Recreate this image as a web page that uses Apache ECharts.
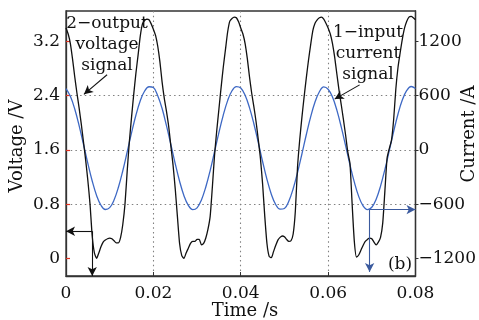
<!DOCTYPE html>
<html>
<head>
<meta charset="utf-8">
<script src="https://cdn.jsdelivr.net/npm/echarts@6/dist/echarts.min.js"></script>
<style>
  html, body { margin: 0; padding: 0; background: #fff; }
  #chart { width: 479px; height: 320px; }
</style>
</head>
<body>
<div id="chart"></div>
<script>
const voltageStep = 0.0005;
const voltage = [
  3.40, 3.31, 3.17, 2.94, 2.68, 2.44, 2.22, 1.98, 1.72, 1.45,
  1.15, 0.80, 0.33, 0.08, 0.00, 0.08, 0.17, 0.24, 0.27, 0.29,
  0.30, 0.29, 0.26, 0.23, 0.23, 0.31, 0.50, 0.80, 1.28, 1.72,
  2.08, 2.42, 2.73, 3.00, 3.28, 3.46, 3.51, 3.53, 3.52, 3.46,
  3.38, 3.29, 3.13, 2.90, 2.60, 2.36, 2.17, 1.95, 1.66, 1.38,
  1.03, 0.62, 0.22, 0.04, 0.00, 0.08, 0.15, 0.22, 0.25, 0.25,
  0.28, 0.28, 0.20, 0.22, 0.30, 0.43, 0.62, 1.05, 1.52, 1.88,
  2.20, 2.52, 2.82, 3.08, 3.34, 3.50, 3.54, 3.56, 3.55, 3.49,
  3.40, 3.31, 3.17, 2.95, 2.68, 2.44, 2.24, 2.02, 1.76, 1.48,
  1.10, 0.62, 0.22, 0.03, 0.01, 0.10, 0.19, 0.27, 0.31, 0.33,
  0.32, 0.28, 0.25, 0.26, 0.36, 0.70, 1.35, 1.75, 2.08, 2.38,
  2.66, 2.92, 3.15, 3.36, 3.47, 3.52, 3.55, 3.56, 3.53, 3.47,
  3.40, 3.31, 3.17, 2.97, 2.72, 2.48, 2.27, 2.05, 1.82, 1.57,
  1.40, 0.80, 0.25, 0.02, 0.05, 0.12, 0.19, 0.25, 0.28, 0.30,
  0.29, 0.24, 0.20, 0.24, 0.31, 0.52, 1.00, 1.48, 1.62, 1.74,
  2.05, 2.50, 2.82, 3.04, 3.24, 3.40, 3.50, 3.56, 3.57, 3.55, 3.52
];

// input current, sampled every 1 ms
const currentStep = 0.001;
const current = [
  679, 594, 453, 270, 63, -149, -344, -504, -612, -659,
  -639, -554, -413, -230, -23, 189, 384, 544, 652, 699,
  690, 600, 458, 268, 60, -152, -346, -506, -614, -660,
  -641, -553, -410, -228, -20, 192, 386, 546, 655, 700,
  685, 605, 468, 290, 85, -128, -326, -490, -604, -656,
  -648, -568, -430, -250, -45, 168, 366, 530, 644, 698,
  672, 585, 440, 255, 47, -164, -357, -514, -618, -660,
  -634, -545, -400, -215, -8, 204, 398, 555, 658, 702,
  680
];

const timeTicks = [0, 0.02, 0.04, 0.06, 0.08];
const voltageTicks = [0, 0.8, 1.6, 2.4, 3.2];
const currentTicks = [-1200, -600, 0, 600, 1200];

// marked points on the traces [time, value]
const voltageMark = [0.006, 0.4];
const currentMark = [0.0695, -660];
const voltageNote = [[0.0094, 2.71], [0.0041, 2.42]];
const currentNote = [[0.0672, 2.56], [0.0615, 2.35]];

const serif = '"DejaVu Serif", serif';
const vMin = -0.26, vMax = 3.65;
const toCurrent = v => (v - 1.6) * 750;
const minus = s => String(s).replace('-', '\u2212');

const chart = echarts.init(document.getElementById('chart'));

const voltageData = voltage.map((v, i) => [+(i * voltageStep).toFixed(4), v]);
const currentData = current.map((c, i) => [+(i * currentStep).toFixed(3), c]);

const dotted = {type: [1.5, 3.2], color: '#808080', width: 1.1};

chart.setOption({
  animation: false,
  grid: {
    left: 66, right: 63, top: 11, bottom: 44,
    show: true, borderColor: '#333', borderWidth: 1.3
  },
  xAxis: {
    type: 'value',
    min: timeTicks[0], max: timeTicks[timeTicks.length - 1], interval: 0.02,
    axisLine: {onZero: false, lineStyle: {color: '#333', width: 1.3}},
    axisTick: {inside: true, length: 4, lineStyle: {color: '#333'}},
    axisLabel: {
      margin: 9, color: '#111', fontFamily: serif, fontSize: 17,
      formatter: v => v === 0 ? '0' : v.toFixed(2)
    },
    splitLine: {show: true, showMinLine: false, showMaxLine: false, lineStyle: dotted}
  },
  yAxis: [
    {
      type: 'value', min: vMin, max: vMax,
      axisLine: {show: true, lineStyle: {color: '#333', width: 1.3}},
      axisTick: {show: true, inside: true, length: 4, customValues: voltageTicks,
        lineStyle: {color: '#e0301e', width: 1.2}},
      axisLabel: {
        customValues: voltageTicks, margin: 6, color: '#111',
        fontFamily: serif, fontSize: 17,
        formatter: v => v === 0 ? '0' : v.toFixed(1)
      },
      splitLine: {show: true, showMinLine: false, showMaxLine: false, lineStyle: dotted}
    },
    {
      type: 'value', position: 'right', min: toCurrent(vMin), max: toCurrent(vMax),
      axisLine: {show: true, lineStyle: {color: '#333', width: 1.3}},
      axisTick: {show: true, inside: false, length: 3, customValues: currentTicks,
        lineStyle: {color: '#333'}},
      axisLabel: {
        customValues: currentTicks, margin: 3, color: '#111',
        fontFamily: serif, fontSize: 17,
        formatter: v => minus(Math.round(v))
      },
      splitLine: {show: false}
    }
  ],
  series: [
    {
      name: 'voltage', type: 'line', data: voltageData,
      showSymbol: false, smooth: 0.2, z: 3,
      lineStyle: {color: '#111', width: 1.3},
      markLine: {
        silent: true, symbol: ['none', 'arrow'], symbolSize: [7, 9],
        label: {show: false},
        lineStyle: {type: 'solid', color: '#111', width: 1.1},
        data: [
          [{coord: voltageMark}, {coord: [voltageMark[0], vMin]}],
          [{coord: voltageMark}, {coord: [0, voltageMark[1]]}],
          [{coord: voltageNote[0]}, {coord: voltageNote[1]}],
          [{coord: currentNote[0]}, {coord: currentNote[1]}]
        ]
      }
    },
    {
      name: 'current', type: 'line', yAxisIndex: 1, data: currentData,
      showSymbol: false, smooth: 0.4, z: 2,
      lineStyle: {color: '#3d68c4', width: 1.3},
      markLine: {
        silent: true, symbol: ['none', 'arrow'], symbolSize: [7, 9],
        label: {show: false},
        lineStyle: {type: 'solid', color: '#3b5a9e', width: 1.1},
        data: [
          [{coord: currentMark}, {coord: [currentMark[0], -1350]}],
          [{coord: currentMark}, {coord: [0.08, currentMark[1]]}]
        ]
      }
    }
  ],
  graphic: [
    {type: 'text', x: 107, y: 13, style: {
      text: '2\u2212output\nvoltage\nsignal', font: '17px ' + serif,
      align: 'center', verticalAlign: 'top', lineHeight: 21, fill: '#111'}},
    {type: 'text', x: 368, y: 22, style: {
      text: '1\u2212input\ncurrent\nsignal', font: '17px ' + serif,
      align: 'center', verticalAlign: 'top', lineHeight: 21, fill: '#111'}},
    {type: 'text', x: 400, y: 265, style: {
      text: '(b)', font: '17px ' + serif, align: 'center', verticalAlign: 'middle', fill: '#111'}},
    {type: 'text', x: 17, y: 146, rotation: Math.PI / 2, style: {
      text: 'Voltage /V', font: '18px ' + serif, align: 'center', verticalAlign: 'middle', fill: '#111'}},
    {type: 'text', x: 469, y: 134, rotation: Math.PI / 2, style: {
      text: 'Current /A', font: '18px ' + serif, align: 'center', verticalAlign: 'middle', fill: '#111'}},
    {type: 'text', x: 245, y: 311, style: {
      text: 'Time /s', font: '18px ' + serif, align: 'center', verticalAlign: 'middle', fill: '#111'}}
  ]
});
</script>
</body>
</html>
